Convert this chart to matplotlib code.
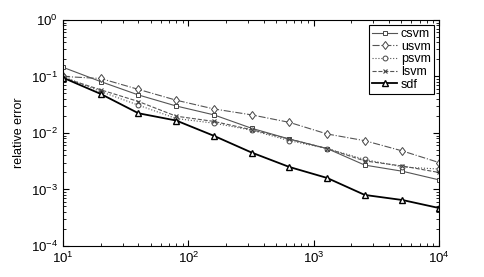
import numpy as np
import matplotlib
matplotlib.use("Agg")
import matplotlib.pyplot as plt

plt.rcParams['font.family'] = ['Liberation Sans', 'DejaVu Sans']
plt.rcParams['mathtext.fontset'] = 'custom'
plt.rcParams['mathtext.rm'] = 'Liberation Sans'
plt.rcParams['mathtext.it'] = 'Liberation Sans:italic'
plt.rcParams['mathtext.bf'] = 'Liberation Sans:bold'

n = [10, 20, 40, 80, 160, 320, 640, 1280, 2560, 5120, 10000]

csvm = [0.145, 0.081, 0.047, 0.030, 0.0209, 0.0121, 0.0078, 0.0053, 0.0027, 0.0021, 0.00148]
usvm = [0.10, 0.092, 0.059, 0.038, 0.0266, 0.0209, 0.0154, 0.0096, 0.0073, 0.0048, 0.0030]
psvm = [0.10, 0.054, 0.031, 0.0180, 0.0149, 0.0112, 0.0073, 0.0053, 0.0034, 0.0025, 0.0023]
lsvm = [0.095, 0.058, 0.036, 0.0198, 0.0160, 0.0114, 0.0078, 0.0053, 0.0032, 0.0026, 0.0020]
sdf = [0.095, 0.049, 0.0223, 0.0166, 0.0089, 0.0045, 0.0025, 0.0016, 0.0008, 0.00065, 0.00047]

fig = plt.figure(figsize=(4.85, 2.77), dpi=100)
ax = fig.add_axes([0.130, 0.112, 0.775, 0.816])

ms = 3.5
ax.plot(n, csvm, '-', color='#555555', lw=0.8, marker='s', ms=ms, mfc='white', mec='#444444', mew=0.7, label='csvm')
ax.plot(n, usvm, '-.', color='#555555', lw=0.8, marker='d', ms=ms + 1, mfc='white', mec='#444444', mew=0.7, label='usvm')
ax.plot(n, psvm, ':', color='#555555', lw=0.8, marker='o', ms=ms, mfc='white', mec='#444444', mew=0.7, label='psvm')
ax.plot(n, lsvm, '--', color='#555555', lw=0.8, marker='x', ms=ms - 0.5, mec='#444444', mew=0.8, label='lsvm')
ax.plot(n, sdf, '-', color='black', lw=1.3, marker='^', ms=ms + 1, mfc='white', mec='black', mew=1.0, label='sdf')

ax.set_xscale('log')
ax.set_yscale('log')
ax.set_xlim(10, 1e4)
ax.set_ylim(1e-4, 1)
ax.set_ylabel('relative error', fontsize=9)

ax.tick_params(which='both', direction='in', top=True, right=True, labelsize=9.5)
ax.tick_params(which='major', length=4)
ax.tick_params(which='minor', length=2)
for s in ax.spines.values():
    s.set_linewidth(0.8)

leg = ax.legend(loc='upper right', fontsize=9, frameon=True, fancybox=False,
                edgecolor='black', framealpha=1, borderpad=0.25, labelspacing=0.05,
                handlelength=2.0, handletextpad=0.3, borderaxespad=0.4)
leg.get_frame().set_linewidth(0.8)

fig.savefig('out.png', dpi=100)
